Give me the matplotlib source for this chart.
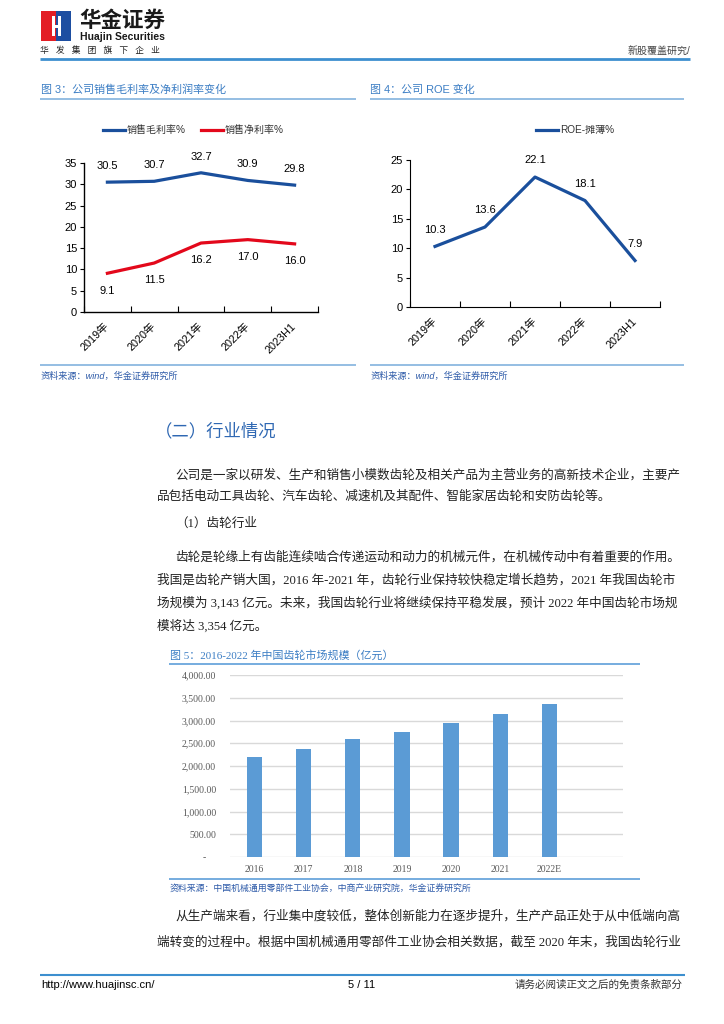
import matplotlib
matplotlib.use("Agg")
import matplotlib.pyplot as plt
from matplotlib.lines import Line2D
from matplotlib.patches import Rectangle
from matplotlib.ticker import FuncFormatter, FixedLocator

# ---------------- data ----------------
years3 = ['2019年', '2020年', '2021年', '2022年', '2023H1']
gross_margin = [30.5, 30.7, 32.7, 30.9, 29.8]
net_margin = [9.1, 11.5, 16.2, 17.0, 16.0]
roe_years = ['2019年', '2020年', '2021年', '2022年', '2023H1']
roe = [10.3, 13.6, 22.1, 18.1, 7.9]
bar_years = ['2016', '2017', '2018', '2019', '2020', '2021', '2022E']
market_size = [2200, 2370, 2590, 2750, 2950, 3143, 3354]
y3_ticks = [0, 5, 10, 15, 20, 25, 30, 35]
y4_ticks = [0, 5, 10, 15, 20, 25]
y5_ticks = [0, 500, 1000, 1500, 2000, 2500, 3000, 3500, 4000]

W, H = 724, 1024
fig = plt.figure(figsize=(W / 100, H / 100), dpi=100)
fig.patch.set_facecolor('white')

CJK = ['Liberation Sans', 'Noto Sans CJK SC', 'DejaVu Sans']
CJKS = ['Liberation Serif', 'Noto Sans CJK SC', 'DejaVu Sans']
BLUE = '#1a4f9c'
RED = '#e3081b'
TBLUE = '#3b7dc4'
LBLUE = '#5b9bd5'


def fx(x):
    return x / W


def fy(y):
    return 1 - y / H


def T(x, y, s, size=8, color='black', ha='left', va='center', family=CJK, **kw):
    fig.text(fx(x), fy(y), s, fontsize=size, color=color, ha=ha, va=va, family=family, **kw)


def hline(x0, x1, y, color, lw):
    fig.add_artist(Line2D([fx(x0), fx(x1)], [fy(y), fy(y)], transform=fig.transFigure,
                          color=color, lw=lw, solid_capstyle='butt'))


def ax_px(l, t, r, b):
    return fig.add_axes([fx(l), fy(b), (r - l) / W, (b - t) / H])


# ---------------- header ----------------
fig.add_artist(Rectangle((fx(41), fy(41)), 15 / W, 30 / H, transform=fig.transFigure,
                         color='#e31e25', lw=0))
fig.add_artist(Rectangle((fx(56), fy(41)), 15 / W, 30 / H, transform=fig.transFigure,
                         color='#1d4ea1', lw=0))
fig.add_artist(Rectangle((fx(52), fy(36)), 3 / W, 20 / H, transform=fig.transFigure,
                         color='white', lw=0))
fig.add_artist(Rectangle((fx(58), fy(36)), 3 / W, 20 / H, transform=fig.transFigure,
                         color='white', lw=0))
fig.add_artist(Rectangle((fx(54), fy(27.5)), 6 / W, 3 / H, transform=fig.transFigure,
                         color='white', lw=0))
T(79, 21, '华金证券', size=15.5, weight='bold', color='#1a1a1a')
T(80, 36.5, 'Huajin Securities', size=7.5, weight='bold', color='#1a1a1a')
T(40, 50.5, '华   发   集   团   旗   下   企   业', size=6.3, color='#222222')
T(690, 50.5, '新股覆盖研究/', size=7.2, color='#444444', ha='right')
hline(40, 690, 58.5, '#3d8fcf', 2.0)

# ---------------- figure 3 ----------------
T(41, 90, '图 3：公司销售毛利率及净利润率变化', size=7.9, color=TBLUE)
hline(40, 356, 99, '#8cb9e0', 1.3)
T(370, 90, '图 4：公司 ROE 变化', size=7.9, color=TBLUE)
hline(370, 684, 99, '#8cb9e0', 1.3)

ax3 = ax_px(84, 163, 318, 312)
x3 = list(range(len(years3)))
ax3.plot(x3, gross_margin, color=BLUE, lw=2.3, label='销售毛利率%', solid_joinstyle='round')
ax3.plot(x3, net_margin, color=RED, lw=2.3, label='销售净利率%', solid_joinstyle='round')
for xi, v in zip(x3, gross_margin):
    ax3.annotate(f'{v:.1f}', (xi, v), xytext=(0, 11.5), textcoords='offset points',
                 ha='center', va='center', fontsize=8, family=CJK)
for xi, v in zip(x3, net_margin):
    ax3.annotate(f'{v:.1f}', (xi, v), xytext=(0, -12.5), textcoords='offset points',
                 ha='center', va='center', fontsize=8, family=CJK)
ax3.set_xlim(-0.5, len(years3) - 0.5)
ax3.set_ylim(0, 35)
ax3.set_yticks(y3_ticks)
ax3.set_xticks(x3)
ax3.set_xticklabels(years3, rotation=45, ha='right', va='center', rotation_mode='anchor',
                    fontsize=7.8, family=CJK)
ax3.xaxis.set_minor_locator(FixedLocator([i - 0.5 for i in range(len(years3) + 1)]))
ax3.tick_params(axis='x', which='major', length=0, pad=9)
ax3.tick_params(axis='x', which='minor', length=4, direction='in', width=0.8)
ax3.tick_params(axis='y', length=3, direction='out', width=0.8, labelsize=8, pad=2)
for lab in ax3.get_yticklabels():
    lab.set_family(CJK)
ax3.spines['top'].set_visible(False)
ax3.spines['right'].set_visible(False)
for s in ['left', 'bottom']:
    ax3.spines[s].set_linewidth(1.0)
ax3.patch.set_alpha(0)
ax3.legend(loc='center', bbox_to_anchor=(fx(193), fy(130)), bbox_transform=fig.transFigure,
           ncol=2, frameon=False, prop={'family': CJK, 'size': 7.2}, handlelength=2.2,
           handletextpad=0.2, columnspacing=1.5, labelcolor='#333333')

hline(40, 356, 365, '#8cb9e0', 1.3)
T(41, 376, '资料来源：wind，华金证券研究所', size=6.6, color='#2d5aa8', style='italic')

# ---------------- figure 4 ----------------
ax4 = ax_px(410, 160, 660, 307)
x4 = list(range(len(roe_years)))
ax4.plot(x4, roe, color=BLUE, lw=2.3, label='ROE-摊薄%', solid_joinstyle='round')
for xi, v in zip(x4, roe):
    ax4.annotate(f'{v:.1f}', (xi, v), xytext=(0, 12), textcoords='offset points',
                 ha='center', va='center', fontsize=8, family=CJK)
ax4.set_xlim(-0.5, len(roe_years) - 0.5)
ax4.set_ylim(0, 25)
ax4.set_yticks(y4_ticks)
ax4.set_xticks(x4)
ax4.set_xticklabels(roe_years, rotation=45, ha='right', va='center', rotation_mode='anchor',
                    fontsize=7.8, family=CJK)
ax4.xaxis.set_minor_locator(FixedLocator([i - 0.5 for i in range(len(roe_years) + 1)]))
ax4.tick_params(axis='x', which='major', length=0, pad=9)
ax4.tick_params(axis='x', which='minor', length=4, direction='in', width=0.8)
ax4.tick_params(axis='y', length=3, direction='out', width=0.8, labelsize=8, pad=2)
for lab in ax4.get_yticklabels():
    lab.set_family(CJK)
ax4.spines['top'].set_visible(False)
ax4.spines['right'].set_visible(False)
ax4.patch.set_alpha(0)
ax4.legend(loc='center', bbox_to_anchor=(fx(575), fy(130)), bbox_transform=fig.transFigure,
           ncol=1, frameon=False, prop={'family': CJK, 'size': 7.2}, handlelength=2.2,
           handletextpad=0.2, labelcolor='#333333')

hline(370, 684, 365, '#8cb9e0', 1.3)
T(371, 376, '资料来源：wind，华金证券研究所', size=6.6, color='#2d5aa8', style='italic')

# ---------------- text section ----------------
T(155, 432, '（二）行业情况', size=12.5, color='#2f68b3', family=CJKS)
body = dict(size=9.1, color='#222222', family=CJKS)
T(175, 475, '公司是一家以研发、生产和销售小模数齿轮及相关产品为主营业务的高新技术企业，主要产', **body)
T(157, 497, '品包括电动工具齿轮、汽车齿轮、减速机及其配件、智能家居齿轮和安防齿轮等。', **body)
T(175, 524, '（1）齿轮行业', **body)
T(175, 557, '齿轮是轮缘上有齿能连续啮合传递运动和动力的机械元件，在机械传动中有着重要的作用。', **body)
T(157, 580, '我国是齿轮产销大国，2016 年-2021 年，齿轮行业保持较快稳定增长趋势，2021 年我国齿轮市', **body)
T(157, 603, '场规模为 3,143 亿元。未来，我国齿轮行业将继续保持平稳发展，预计 2022 年中国齿轮市场规', **body)
T(157, 626, '模将达 3,354 亿元。', **body)

# ---------------- figure 5 ----------------
T(170, 655, '图 5：2016-2022 年中国齿轮市场规模（亿元）', size=7.9, color=TBLUE, family=CJKS)
hline(169, 640, 664, '#6aa6dc', 1.3)

ax5 = ax_px(230, 675, 623, 857)
x5 = list(range(len(bar_years)))
ax5.bar(x5, market_size, width=0.31, color=LBLUE, zorder=3)
ax5.set_xlim(-0.5, len(bar_years) + 0.5)
ax5.set_ylim(0, 4000)
ax5.set_yticks(y5_ticks)
ax5.yaxis.set_major_formatter(FuncFormatter(lambda v, p: '-    ' if v == 0 else f'{v:,.2f}'))
ax5.set_xticks(x5)
ax5.set_xticklabels(bar_years, fontsize=7, family='Liberation Serif', color='#595959')
ax5.tick_params(axis='both', length=0)
ax5.tick_params(axis='y', labelsize=7, labelcolor='#595959', pad=10)
ax5.tick_params(axis='x', pad=6)
for lab in ax5.get_yticklabels():
    lab.set_family('Liberation Serif')
ax5.grid(axis='y', color='#d9d9d9', lw=1.0, zorder=0)
for s in ax5.spines.values():
    s.set_visible(False)
ax5.patch.set_alpha(0)

hline(169, 640, 879, '#6aa6dc', 1.3)
T(170, 889, '资料来源：中国机械通用零部件工业协会，中商产业研究院，华金证券研究所', size=6.4,
  color='#2d5aa8', style='italic')

T(175, 916, '从生产端来看，行业集中度较低，整体创新能力在逐步提升，生产产品正处于从中低端向高', **body)
T(157, 942, '端转变的过程中。根据中国机械通用零部件工业协会相关数据，截至 2020 年末，我国齿轮行业', **body)

# ---------------- footer ----------------
hline(40, 685, 975, '#3d8fcf', 1.5)
T(41, 985, 'http://www.huajinsc.cn/', size=8, color='black')
T(362, 985, '5 / 11', size=8, color='black', ha='center')
T(683, 985, '请务必阅读正文之后的免责条款部分', size=7.6, color='#333333', ha='right')

fig.savefig('out.png', dpi=100, facecolor='white')
